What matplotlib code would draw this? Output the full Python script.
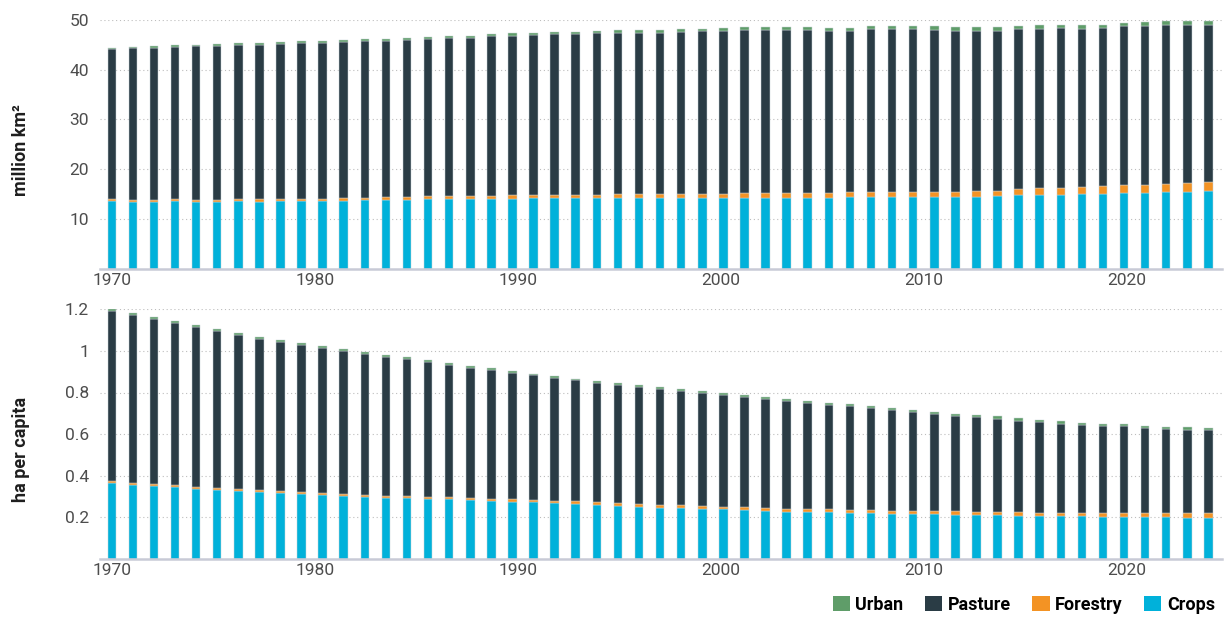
import numpy as np
import matplotlib.pyplot as plt
from matplotlib.patches import Patch

plt.rcParams['font.family'] = ['Roboto', 'DejaVu Sans']

# 53 bars spread evenly over 1970-2024
first_year, last_year = 1970, 2024

# --- land use, million km2 ---
crops_km2 = [13.6, 13.5, 13.5, 13.6, 13.5, 13.5, 13.6, 13.5, 13.6, 13.6,
             13.6, 13.7, 13.8, 13.9, 13.9, 14.0, 14.0, 14.0, 14.1, 14.1,
             14.2, 14.2, 14.2, 14.2, 14.3, 14.3, 14.3, 14.3, 14.3, 14.3,
             14.3, 14.3, 14.3, 14.3, 14.3, 14.4, 14.4, 14.4, 14.4, 14.5,
             14.4, 14.5, 14.6, 14.8, 14.9, 14.9, 15.0, 15.1, 15.2, 15.2,
             15.4, 15.5, 15.6]
forestry_km2 = [0.35, 0.36, 0.36, 0.38, 0.39, 0.40, 0.40, 0.42, 0.43, 0.44,
                0.45, 0.46, 0.47, 0.48, 0.50, 0.53, 0.55, 0.58, 0.60, 0.62,
                0.64, 0.66, 0.68, 0.70, 0.72, 0.73, 0.75, 0.77, 0.79, 0.80,
                0.82, 0.84, 0.86, 0.88, 0.90, 0.92, 0.95, 0.97, 0.99, 1.01,
                1.04, 1.07, 1.12, 1.18, 1.25, 1.33, 1.42, 1.50, 1.57, 1.63,
                1.68, 1.72, 1.76]
pasture_km2 = [30.15, 30.44, 30.59, 30.62, 30.81, 30.95, 30.95, 31.13, 31.17, 31.26,
               31.35, 31.39, 31.43, 31.47, 31.50, 31.67, 31.75, 31.82, 32.00, 32.08,
               32.06, 32.24, 32.22, 32.40, 32.33, 32.37, 32.40, 32.48, 32.61, 32.75,
               32.78, 32.76, 32.79, 32.82, 32.60, 32.48, 32.75, 32.73, 32.71, 32.49,
               32.36, 32.28, 32.13, 32.12, 32.05, 32.07, 31.78, 31.70, 31.93, 31.87,
               31.82, 31.68, 31.64]
urban_km2 = [0.30, 0.31, 0.32, 0.33, 0.34, 0.35, 0.36, 0.37, 0.38, 0.39,
             0.40, 0.41, 0.42, 0.43, 0.45, 0.46, 0.47, 0.48, 0.49, 0.50,
             0.51, 0.52, 0.53, 0.54, 0.55, 0.56, 0.57, 0.58, 0.59, 0.60,
             0.61, 0.62, 0.63, 0.64, 0.65, 0.66, 0.67, 0.68, 0.69, 0.70,
             0.71, 0.72, 0.73, 0.74, 0.75, 0.76, 0.77, 0.78, 0.79, 0.80,
             0.81, 0.82, 0.83]

# --- land use, ha per capita ---
crops_ha = [0.366, 0.357, 0.349, 0.344, 0.338, 0.331, 0.326, 0.320, 0.315, 0.311,
            0.306, 0.301, 0.298, 0.294, 0.291, 0.289, 0.287, 0.282, 0.278, 0.275,
            0.272, 0.268, 0.264, 0.259, 0.254, 0.251, 0.246, 0.245, 0.241, 0.238,
            0.235, 0.230, 0.227, 0.225, 0.224, 0.222, 0.219, 0.217, 0.216, 0.214,
            0.213, 0.210, 0.210, 0.207, 0.206, 0.205, 0.204, 0.203, 0.202, 0.201,
            0.200, 0.199, 0.198]
forestry_ha = [0.0095, 0.0096, 0.0096, 0.0097, 0.0098, 0.0098, 0.0099, 0.0099, 0.0100, 0.0100,
               0.0100, 0.0101, 0.0102, 0.0103, 0.0105, 0.0108, 0.0110, 0.0113, 0.0115, 0.0117,
               0.0120, 0.0121, 0.0122, 0.0124, 0.0125, 0.0126, 0.0127, 0.0128, 0.0129, 0.0131,
               0.0133, 0.0134, 0.0135, 0.0136, 0.0137, 0.0138, 0.0140, 0.0141, 0.0142, 0.0144,
               0.0149, 0.0152, 0.0157, 0.0163, 0.0170, 0.0179, 0.0188, 0.0197, 0.0204, 0.0210,
               0.0214, 0.0218, 0.0222]
pasture_ha = [0.817, 0.806, 0.794, 0.781, 0.768, 0.756, 0.742, 0.729, 0.719, 0.709,
              0.698, 0.689, 0.678, 0.666, 0.659, 0.648, 0.636, 0.625, 0.618, 0.607,
              0.598, 0.591, 0.582, 0.575, 0.570, 0.563, 0.558, 0.550, 0.545, 0.536,
              0.531, 0.527, 0.519, 0.513, 0.503, 0.499, 0.493, 0.485, 0.475, 0.467,
              0.458, 0.456, 0.449, 0.442, 0.437, 0.428, 0.422, 0.418, 0.415, 0.408,
              0.405, 0.401, 0.399]
urban_ha = [0.008, 0.008, 0.008, 0.008, 0.008, 0.008, 0.008, 0.008, 0.008, 0.0085,
            0.0085, 0.0085, 0.0085, 0.0085, 0.0085, 0.0085, 0.0085, 0.0085, 0.009, 0.009,
            0.009, 0.009, 0.009, 0.009, 0.009, 0.009, 0.009, 0.0095, 0.0095, 0.0095,
            0.0095, 0.0095, 0.0095, 0.0095, 0.0095, 0.0095, 0.0095, 0.0095, 0.0095, 0.0095,
            0.010, 0.010, 0.010, 0.010, 0.010, 0.010, 0.010, 0.010, 0.010, 0.010,
            0.010, 0.010, 0.010]

labels = ['Crops', 'Forestry', 'Pasture', 'Urban']
colors = ['#00b1da', '#f39324', '#2a3c45', '#5f9d69']
tick_years = [1970, 1980, 1990, 2000, 2010, 2020]

x = np.linspace(first_year, last_year, len(crops_km2))

W, H = 1226, 619
fig = plt.figure(figsize=(W / 100, H / 100), dpi=100)
ax1 = fig.add_axes([100 / W, 1 - 268.7 / H, 1122 / W, 248.7 / H])
ax2 = fig.add_axes([100 / W, 1 - 558.9 / H, 1122 / W, 249.6 / H])


def stacked(ax, series):
    bottom = np.zeros(len(x))
    for vals, col in zip(series, colors):
        vals = np.array(vals)
        ax.bar(x, vals, bottom=bottom, width=0.42, color=col,
               edgecolor='#c9d3d6', linewidth=0.35, zorder=3)
        bottom += vals


def style(ax, yticks, ylabels):
    ax.set_xlim(1969.42, 2024.67)
    ax.set_yticks(yticks)
    ax.set_yticklabels(ylabels)
    ax.set_xticks(tick_years)
    ax.set_xticklabels([str(y) for y in tick_years])
    ax.grid(axis='y', color='#bdbdbd', linestyle=(0, (1, 2.5)), linewidth=0.8, zorder=0)
    for s in ['top', 'right', 'left']:
        ax.spines[s].set_visible(False)
    ax.spines['bottom'].set_color('#c8cad6')
    ax.spines['bottom'].set_linewidth(1.8)
    ax.spines['bottom'].set_zorder(4)
    ax.tick_params(axis='y', length=0, pad=8, labelsize=12.5, labelcolor='#4d4d4d')
    ax.tick_params(axis='x', length=0, pad=3, labelsize=12.5, labelcolor='#4d4d4d')


stacked(ax1, [crops_km2, forestry_km2, pasture_km2, urban_km2])
ax1.set_ylim(0, 50)
style(ax1, [10, 20, 30, 40, 50], ['10', '20', '30', '40', '50'])

stacked(ax2, [crops_ha, forestry_ha, pasture_ha, urban_ha])
ax2.set_ylim(0, 1.2)
style(ax2, [0.2, 0.4, 0.6, 0.8, 1.0, 1.2], ['0.2', '0.4', '0.6', '0.8', '1', '1.2'])

fig.text(21 / W, 1 - 150 / H, 'million km²', rotation=90, ha='center', va='center',
         fontsize=13, fontweight='bold', color='#1e1e1e')
fig.text(21 / W, 1 - 449 / H, 'ha per capita', rotation=90, ha='center', va='center',
         fontsize=13, fontweight='bold', color='#1e1e1e')

order = [3, 2, 1, 0]
handles = [Patch(facecolor=colors[i]) for i in order]
fig.legend(handles, [labels[i] for i in order], ncol=4, loc='center right',
           bbox_to_anchor=(1215 / W, 1 - 604.5 / H), frameon=False,
           handlelength=0.95, handleheight=0.95, handletextpad=0.3,
           columnspacing=1.2, borderpad=0, borderaxespad=0,
           prop={'size': 13, 'weight': 'bold'})

fig.savefig('out.png', dpi=100)
